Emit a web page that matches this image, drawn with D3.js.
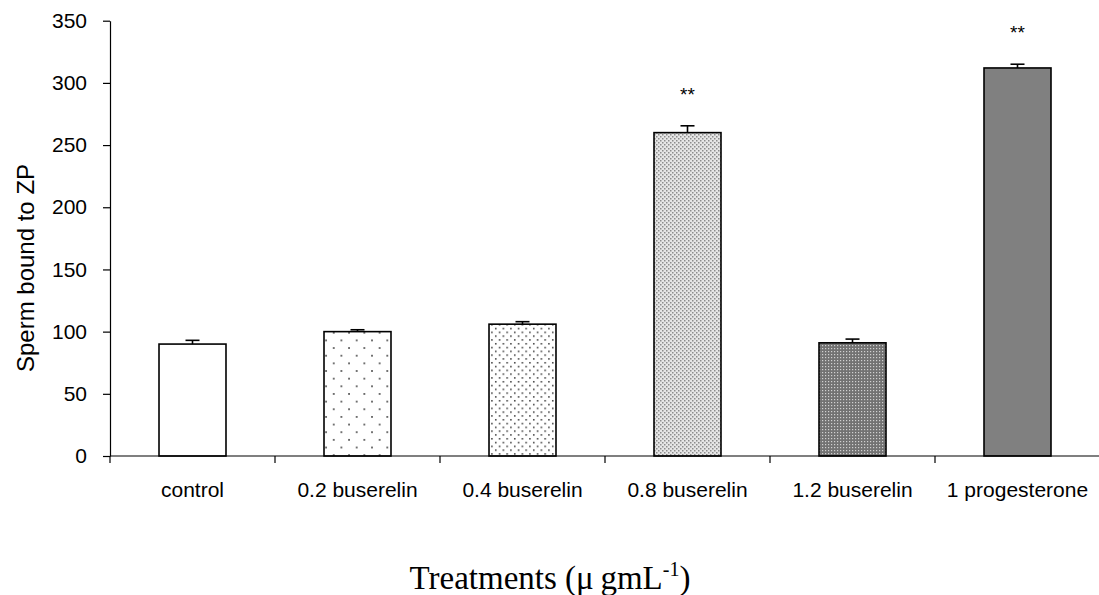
<!DOCTYPE html>
<html>
<head>
<meta charset="utf-8">
<script src="https://cdn.jsdelivr.net/npm/d3@7"></script>
<style>
  html, body { margin: 0; padding: 0; background: #fff; }
  svg { display: block; }
</style>
</head>
<body>
<svg id="chart" width="1099" height="595"></svg>
<script>
// Treatment groups and measured binding (mean with upward SE bar)
const categories = ["control", "0.2 buserelin", "0.4 buserelin", "0.8 buserelin", "1.2 buserelin", "1 progesterone"];
const values = [90, 100, 106, 260, 91, 312];
const errors = [3, 1.5, 2, 5.5, 3, 3];
const significance = ["", "", "", "**", "", "**"];
const fills = ["white", "url(#dots-sparse)", "url(#dots-medium)", "url(#dots-fine)", "url(#check-dark)", "#808080"];
const yTicks = [0, 50, 100, 150, 200, 250, 300, 350];

const svg = d3.select("#chart");
const plotLeft = 110, plotRight = 1100, plotTop = 20.7, plotBottom = 456;
const sans = "Liberation Sans, Arial, sans-serif";

const x = d3.scaleBand().domain(categories).range([plotLeft, plotRight])
  .paddingInner(0.594).paddingOuter(0.297);
const y = d3.scaleLinear().domain([0, 350]).range([plotBottom, plotTop]);

// Fill patterns
const defs = svg.append("defs");
const p1 = defs.append("pattern").attr("id", "dots-sparse")
  .attr("patternUnits", "userSpaceOnUse").attr("width", 15.3).attr("height", 15.3);
p1.append("rect").attr("width", 15.3).attr("height", 15.3).attr("fill", "#fff");
p1.append("rect").attr("x", 4).attr("y", 3).attr("width", 1.6).attr("height", 1.6).attr("fill", "#333");
p1.append("rect").attr("x", 11.65).attr("y", 10.65).attr("width", 1.6).attr("height", 1.6).attr("fill", "#333");

const p2 = defs.append("pattern").attr("id", "dots-medium")
  .attr("patternUnits", "userSpaceOnUse").attr("width", 7.6).attr("height", 7.6);
p2.append("rect").attr("width", 7.6).attr("height", 7.6).attr("fill", "#fff");
p2.append("rect").attr("x", 1).attr("y", 1).attr("width", 1.5).attr("height", 1.5).attr("fill", "#333");
p2.append("rect").attr("x", 4.8).attr("y", 4.8).attr("width", 1.5).attr("height", 1.5).attr("fill", "#333");

const p3 = defs.append("pattern").attr("id", "dots-fine")
  .attr("patternUnits", "userSpaceOnUse").attr("width", 4).attr("height", 4);
p3.append("rect").attr("width", 4).attr("height", 4).attr("fill", "#e6e6e6");
p3.append("rect").attr("x", 0).attr("y", 0).attr("width", 1.5).attr("height", 1.5).attr("fill", "#8c8c8c");
p3.append("rect").attr("x", 2).attr("y", 2).attr("width", 1.5).attr("height", 1.5).attr("fill", "#8c8c8c");

const p4 = defs.append("pattern").attr("id", "check-dark")
  .attr("patternUnits", "userSpaceOnUse").attr("width", 3).attr("height", 3);
p4.append("rect").attr("width", 3).attr("height", 3).attr("fill", "#727272");
p4.append("rect").attr("x", 0).attr("y", 0).attr("width", 1.2).attr("height", 1.2).attr("fill", "#d0d0d0");

// Bars
svg.append("g").selectAll("rect").data(categories).join("rect")
  .attr("x", d => x(d))
  .attr("y", (d, i) => y(values[i]))
  .attr("width", x.bandwidth())
  .attr("height", (d, i) => y(0) - y(values[i]))
  .attr("fill", (d, i) => fills[i])
  .attr("stroke", "#000")
  .attr("stroke-width", 1.6);

// Error bars (upper only)
const eb = svg.append("g").attr("stroke", "#000").attr("stroke-width", 1.6);
categories.forEach((c, i) => {
  const cx = x(c) + x.bandwidth() / 2;
  eb.append("line").attr("x1", cx).attr("x2", cx)
    .attr("y1", y(values[i])).attr("y2", y(values[i] + errors[i]));
  eb.append("line").attr("x1", cx - 7).attr("x2", cx + 7)
    .attr("y1", y(values[i] + errors[i])).attr("y2", y(values[i] + errors[i]));
});

// Significance markers
svg.append("g").selectAll("text").data(categories).join("text")
  .attr("x", d => x(d) + x.bandwidth() / 2)
  .attr("y", (d, i) => y(values[i] + errors[i]) - 25)
  .attr("text-anchor", "middle")
  .attr("font-family", sans)
  .attr("font-size", 19)
  .text((d, i) => significance[i]);

// Y axis
const yAxis = svg.append("g").attr("transform", `translate(${plotLeft},0)`)
  .call(d3.axisLeft(y).tickValues(yTicks).tickSize(7).tickPadding(16).tickSizeOuter(0));
yAxis.select(".domain").attr("stroke-width", 1.2);
yAxis.selectAll(".tick line").attr("stroke-width", 1.2);
yAxis.selectAll("text").attr("font-family", sans)
  .attr("font-size", 21).attr("fill", "#000");

// X axis: baseline with ticks at group boundaries
const xAxis = svg.append("g");
xAxis.append("line").attr("x1", plotLeft).attr("x2", plotRight).attr("y1", y(0)).attr("y2", y(0))
  .attr("stroke", "#000").attr("stroke-width", 1.2);
xAxis.selectAll("line.tk").data(categories).join("line").attr("class", "tk")
  .attr("x1", d => x(d) - x.step() * x.paddingInner() / 2)
  .attr("x2", d => x(d) - x.step() * x.paddingInner() / 2)
  .attr("y1", y(0)).attr("y2", y(0) + 7)
  .attr("stroke", "#000").attr("stroke-width", 1.2);
xAxis.selectAll("text").data(categories).join("text")
  .attr("x", d => x(d) + x.bandwidth() / 2)
  .attr("y", y(0) + 41)
  .attr("text-anchor", "middle")
  .attr("font-family", sans)
  .attr("font-size", 21)
  .text(d => d);

// Axis titles
svg.append("text")
  .attr("transform", `translate(34,268) rotate(-90)`)
  .attr("text-anchor", "middle")
  .attr("font-family", sans)
  .attr("font-size", 24)
  .text("Sperm bound to ZP");

const xt = svg.append("text")
  .attr("x", 550).attr("y", 589)
  .attr("text-anchor", "middle")
  .attr("font-family", "Liberation Serif, Times New Roman, serif")
  .attr("font-size", 33);
xt.append("tspan").text("Treatments (\u03bc\u2009gmL");
xt.append("tspan").attr("font-size", 20).attr("dy", -13).text("-1");
xt.append("tspan").attr("dy", 13).text(")");
</script>
</body>
</html>
